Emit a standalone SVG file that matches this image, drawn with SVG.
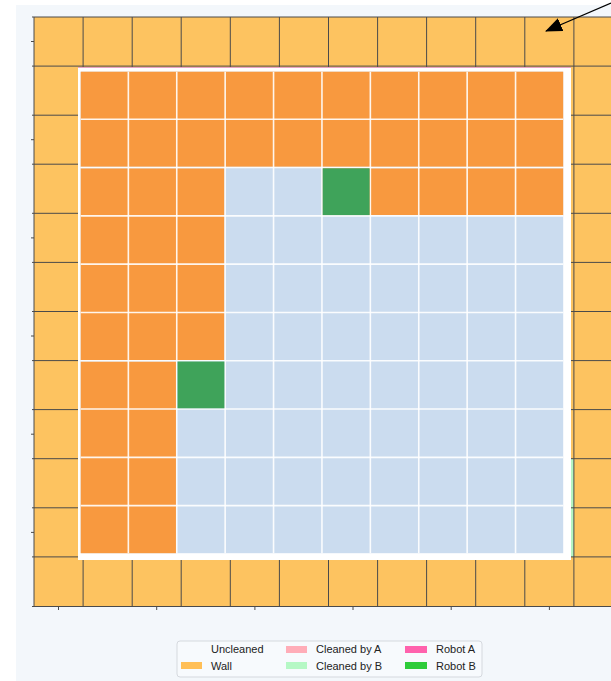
<svg xmlns="http://www.w3.org/2000/svg" width="611" height="681" viewBox="0 0 611 681">
<style>
.grid{stroke:#4a4a4a;stroke-width:1;fill:none}
.tick{stroke:#4a4a4a;stroke-width:1}
.gap{stroke:#ffffff;stroke-width:1.6;stroke-opacity:0.9}
.org{fill:#f8993f}
.blue{fill:#cbdcef}
.robotB{fill:#3fa35a}
.lg{font-family:"Liberation Sans",Arial,sans-serif;font-size:11px;fill:#222}
</style>
<defs>
<marker id="ah" markerWidth="17" markerHeight="14" refX="16" refY="7" orient="auto" markerUnits="userSpaceOnUse"><path d="M0,0 L17,7 L0,14 Z" fill="#000"/></marker>
</defs>
<rect x="0" y="0" width="611" height="681" fill="#ffffff"/>
<rect x="16" y="5" width="595" height="676" fill="#f3f7fb"/>
<g id="walls">
<rect x="34" y="17" width="577" height="590" fill="#fdc360"/>
<rect x="525" y="459" width="49" height="98" fill="#b5f5c3"/>
</g>
<g id="gridlines">
<path class="grid" d="M34,17V607 M83.1,17V607 M132.2,17V607 M181.2,17V607 M230.3,17V607 M279.4,17V607 M328.5,17V607 M377.6,17V607 M426.6,17V607 M475.7,17V607 M524.8,17V607 M573.9,17V607"/>
<path class="grid" d="M32,17H611 M32,66.1H611 M32,115.2H611 M32,164.2H611 M32,213.3H611 M32,262.4H611 M32,311.5H611 M32,360.6H611 M32,409.6H611 M32,458.7H611 M32,507.8H611 M32,556.9H611 M32,606.5H611"/>
<path class="tick" d="M31,41.5H34 M31,139.7H34 M31,237.9H34 M31,336H34 M31,434.2H34 M31,532.4H34 M58.5,607V610 M156.7,607V610 M254.9,607V610 M353,607V610 M451.2,607V610 M549.4,607V610"/>
</g>
<g id="map">
<rect x="78" y="67" width="493" height="493" fill="#ffffff"/>
<line x1="78" y1="67.5" x2="571" y2="67.5" stroke="#e9a3c3" stroke-width="1"/>
<rect class="blue" x="80.7" y="71.7" width="482.5" height="481.5"/>
<rect class="org" x="80.7" y="71.7" width="482.5" height="95.1"/>
<rect class="org" x="322.7" y="168.3" width="240.5" height="46.8"/>
<rect class="org" x="80.7" y="168.3" width="143.7" height="191.7"/>
<rect class="org" x="80.7" y="361.5" width="95.3" height="191.7"/>
<path class="gap" d="M128.35,71.7V553.2 M176.75,71.7V553.2 M225.15,71.7V553.2 M273.55,71.7V553.2 M321.95,71.7V553.2 M370.35,71.7V553.2 M418.75,71.7V553.2 M467.15,71.7V553.2 M515.55,71.7V553.2"/>
<path class="gap" d="M80.7,119.25H563.2 M80.7,167.55H563.2 M80.7,215.85H563.2 M80.7,264.15H563.2 M80.7,312.45H563.2 M80.7,360.75H563.2 M80.7,409.05H563.2 M80.7,457.35H563.2 M80.7,505.65H563.2"/>
</g>
<g id="robotB1"><rect class="robotB" x="322.7" y="168.3" width="46.9" height="46.8"/></g>
<g id="robotB2"><rect class="robotB" x="177.5" y="361.5" width="46.9" height="46.8"/></g>
<g id="connectors">
<line x1="611" y1="3" x2="546" y2="31" stroke="#000" stroke-width="1.3" marker-end="url(#ah)"/>
</g>
<g id="legend">
<rect x="177" y="641" width="305" height="36" rx="3" fill="#f7fafd" stroke="#d5d9de" stroke-width="1"/>
<text class="lg" x="211" y="653">Uncleaned</text>
<rect x="181" y="662" width="21" height="7" fill="#ffbf57"/>
<text class="lg" x="211" y="669.5">Wall</text>
<rect x="286" y="646" width="21" height="7" fill="#ffadb8"/>
<text class="lg" x="316" y="653">Cleaned by A</text>
<rect x="286" y="662" width="21" height="7" fill="#b5f8c5"/>
<text class="lg" x="316" y="669.5">Cleaned by B</text>
<rect x="405" y="646" width="22" height="7" fill="#ff62ad"/>
<text class="lg" x="436" y="653">Robot A</text>
<rect x="405" y="662" width="22" height="7" fill="#2ecc3a"/>
<text class="lg" x="436" y="669.5">Robot B</text>
</g>
</svg>
